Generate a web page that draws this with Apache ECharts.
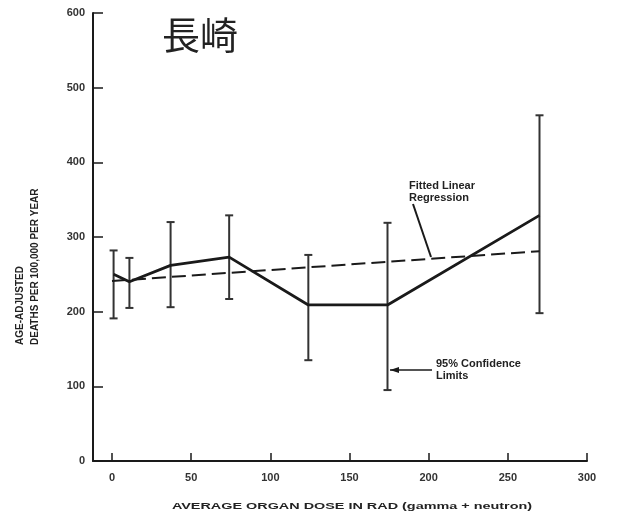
<!DOCTYPE html>
<html>
<head>
<meta charset="utf-8">
<script src="https://cdn.jsdelivr.net/npm/echarts@6/dist/echarts.min.js"></script>
<style>
html,body{margin:0;padding:0;background:#fff;}
#c{width:618px;height:517px;}
</style>
</head>
<body>
<div id="c"></div>
<script>
// Data
var doseX = [1, 11, 37, 74, 124, 174, 270];
var rate = [250, 240, 262, 273, 209, 209, 329];
var lower = [191, 205, 206, 217, 135, 95, 198];
var upper = [282, 272, 320, 329, 276, 319, 463];
var fitX = [0, 270];
var fitY = [241, 281];
var xTicks = [0, 50, 100, 150, 200, 250, 300];
var yTicks = [0, 100, 200, 300, 400, 500, 600];

var ink = '#1a1a1a';
var chart = echarts.init(document.getElementById('c'));

var lineData = doseX.map(function (x, i) { return [x, rate[i]]; });
var errData = doseX.map(function (x, i) { return [x, lower[i], upper[i]]; });
var fitData = fitX.map(function (x, i) { return [x, fitY[i]]; });

chart.setOption({
  backgroundColor: '#fff',
  animation: false,
  grid: { left: 93, right: 31, top: 13, bottom: 56 },
  xAxis: {
    type: 'value', min: -12, max: 300,
    axisLine: { onZero: false, lineStyle: { color: ink, width: 2 } },
    axisTick: { inside: true, length: 8, customValues: xTicks, lineStyle: { color: ink, width: 1.5 } },
    axisLabel: { customValues: xTicks, margin: 11, color: '#333', fontSize: 11, fontFamily: 'Liberation Sans', fontWeight: 'bold' },
    splitLine: { show: false }
  },
  yAxis: {
    type: 'value', min: 0, max: 600, interval: 100,
    axisLine: { show: true, onZero: false, lineStyle: { color: ink, width: 2 } },
    axisTick: { show: true, inside: true, length: 10, lineStyle: { color: ink, width: 1.5 } },
    axisLabel: { margin: 8, color: '#333', fontSize: 11, fontFamily: 'Liberation Sans', fontWeight: 'bold' },
    splitLine: { show: false }
  },
  series: [
    {
      type: 'custom',
      data: errData,
      renderItem: function (params, api) {
        var x = api.value(0);
        var lo = api.coord([x, api.value(1)]);
        var hi = api.coord([x, api.value(2)]);
        var cw = 4;
        var st = { stroke: '#333', lineWidth: 2 };
        return {
          type: 'group',
          children: [
            { type: 'line', shape: { x1: lo[0], y1: lo[1], x2: hi[0], y2: hi[1] }, style: st },
            { type: 'line', shape: { x1: lo[0] - cw, y1: lo[1], x2: lo[0] + cw, y2: lo[1] }, style: st },
            { type: 'line', shape: { x1: hi[0] - cw, y1: hi[1], x2: hi[0] + cw, y2: hi[1] }, style: st }
          ]
        };
      },
      z: 2
    },
    {
      type: 'line',
      data: fitData,
      symbol: 'none',
      lineStyle: { color: ink, width: 2, type: [14, 6] },
      z: 3
    },
    {
      type: 'line',
      data: lineData,
      symbol: 'none',
      lineStyle: { color: ink, width: 2.8 },
      z: 4
    }
  ],
  graphic: [
    { type: 'text', left: 162, top: 16, style: { text: '長崎', font: '38px "Noto Sans CJK JP"', fill: '#222' } },
    { type: 'text', x: 20, y: 345, rotation: Math.PI / 2,
      style: { text: 'AGE-ADJUSTED', font: 'bold 10px "Liberation Sans"', fill: '#222', textAlign: 'left', textVerticalAlign: 'middle' } },
    { type: 'text', x: 35, y: 345, rotation: Math.PI / 2,
      style: { text: 'DEATHS PER 100,000 PER YEAR', font: 'bold 10px "Liberation Sans"', fill: '#222', textAlign: 'left', textVerticalAlign: 'middle' } },
    { type: 'text', x: 352, y: 507, scaleX: 1.6,
      style: { text: 'AVERAGE ORGAN DOSE IN RAD (gamma + neutron)', font: 'bold 9px "Liberation Sans"', fill: '#222', textAlign: 'center', textVerticalAlign: 'middle' } },
    { type: 'text', x: 409, y: 180,
      style: { text: 'Fitted Linear\nRegression', font: 'bold 11px "Liberation Sans"', fill: '#222', lineHeight: 12 } },
    { type: 'line', shape: { x1: 413, y1: 204, x2: 431, y2: 257 }, style: { stroke: ink, lineWidth: 2 } },
    { type: 'text', x: 436, y: 358,
      style: { text: '95% Confidence\nLimits', font: 'bold 11px "Liberation Sans"', fill: '#222', lineHeight: 12 } },
    { type: 'line', shape: { x1: 390, y1: 370, x2: 432, y2: 370 }, style: { stroke: ink, lineWidth: 1.5 } },
    { type: 'polygon', shape: { points: [[390, 370], [399, 367], [399, 373]] }, style: { fill: ink } }
  ]
});
</script>
</body>
</html>
